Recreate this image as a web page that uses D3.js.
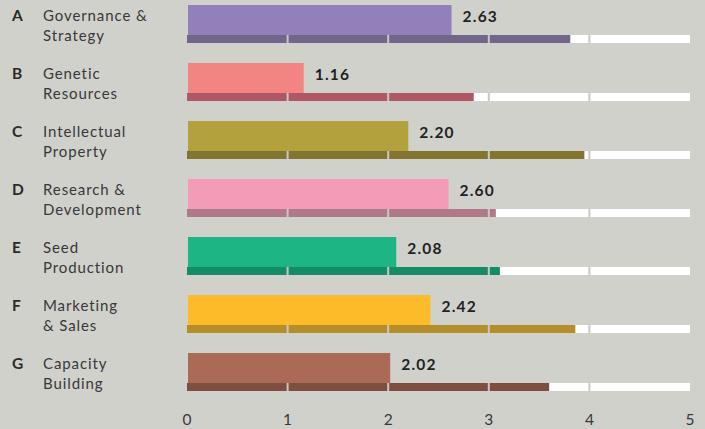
<!DOCTYPE html>
<head>
    <meta charset="utf-8" />
    <script src="https://d3js.org/d3.v7.min.js"></script>
    <style>
        body { margin: 0; background: #d1d1cc; }
        svg { display: block; }
        text { font-family: Lato, "Open Sans", sans-serif; }
    </style>
</head>
<body>
<script>
    var width = 705, height = 429;

    // data
    var letters = ["A", "B", "C", "D", "E", "F", "G"];
    var names = [
        ["Governance &", "Strategy"],
        ["Genetic", "Resources"],
        ["Intellectual", "Property"],
        ["Research &", "Development"],
        ["Seed", "Production"],
        ["Marketing", "& Sales"],
        ["Capacity", "Building"]
    ];
    var scores = [2.63, 1.16, 2.20, 2.60, 2.08, 2.42, 2.02];
    var benchmark = [3.81, 2.85, 3.95, 3.07, 3.11, 3.86, 3.60];
    var ticks = [0, 1, 2, 3, 4, 5];
    var mainColors = ["#9180b9", "#f28482", "#b3a13e", "#f49bb7", "#1db583", "#fdbb2a", "#ab6a56"];
    var darkColors = ["#72668a", "#b05766", "#837530", "#b07989", "#158c65", "#b58d2a", "#7e4f40"];

    var svg = d3.select("body").append("svg")
        .attr("width", width)
        .attr("height", height);

    var x = d3.scaleLinear().domain([0, 5]).range([187, 690]);
    var y = d3.scaleBand().domain(letters).range([5, 411]).paddingInner(0);

    var mainH = 31, thinH = 8;

    var rows = svg.selectAll("g.row")
        .data(letters)
        .join("g")
        .attr("class", "row")
        .attr("transform", function(d) { return "translate(0," + y(d) + ")"; });

    // white background track
    rows.append("rect")
        .attr("x", x(0))
        .attr("y", mainH - 1)
        .attr("width", x(5) - x(0))
        .attr("height", thinH)
        .attr("fill", "#fff");

    // benchmark thin bar
    rows.append("rect")
        .attr("x", x(0))
        .attr("y", mainH - 1)
        .attr("width", function(d, i) { return x(benchmark[i]) - x(0); })
        .attr("height", thinH)
        .attr("fill", function(d, i) { return darkColors[i]; });

    // tick separators on the track
    rows.selectAll("rect.sep")
        .data(ticks.slice(1, 5))
        .join("rect")
        .attr("class", "sep")
        .attr("x", function(t) { return x(t) - 1; })
        .attr("y", mainH - 1)
        .attr("width", 2)
        .attr("height", thinH)
        .attr("fill", "#c9c9c4");

    // main score bar
    rows.append("rect")
        .attr("x", x(0) + 1)
        .attr("y", 0)
        .attr("width", function(d, i) { return x(scores[i]) - x(0) - 1; })
        .attr("height", mainH - 1)
        .attr("fill", function(d, i) { return mainColors[i]; });

    // value labels
    rows.append("text")
        .attr("x", function(d, i) { return x(scores[i]) + 11; })
        .attr("y", 17)
        .attr("font-size", 15.5)
        .attr("font-weight", "bold")
        .attr("fill", "#222")
        .attr("letter-spacing", 1.2)
        .text(function(d, i) { return scores[i].toFixed(2); });

    // letters
    rows.append("text")
        .attr("x", 12)
        .attr("y", 16)
        .attr("font-size", 15.5)
        .attr("font-weight", "bold")
        .attr("fill", "#2a2a2a")
        .text(function(d) { return d; });

    // category names, two lines
    rows.append("text")
        .attr("x", 43)
        .attr("y", 16)
        .attr("font-size", 15)
        .attr("fill", "#383838")
        .attr("letter-spacing", 0.9)
        .selectAll("tspan")
        .data(function(d, i) { return names[i]; })
        .join("tspan")
        .attr("x", 43)
        .attr("dy", function(t, j) { return j === 0 ? 0 : 20; })
        .text(function(t) { return t; });

    // axis labels
    svg.selectAll("text.tick")
        .data(ticks)
        .join("text")
        .attr("class", "tick")
        .attr("x", function(t) { return x(t); })
        .attr("y", 425)
        .attr("text-anchor", "middle")
        .attr("font-size", 15.5)
        .attr("fill", "#383838")
        .text(function(t) { return t; });
</script>
</body>
